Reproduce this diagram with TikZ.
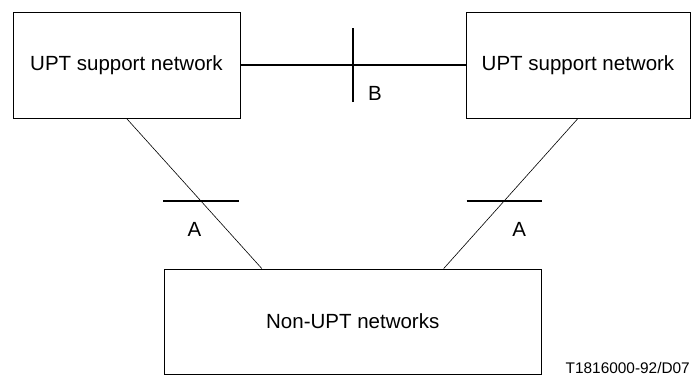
\documentclass[tikz,border=0pt]{standalone}
\usepackage{fontspec}
\setmainfont{Liberation Sans}
\usetikzlibrary{calc, positioning}

\begin{document}
\begin{tikzpicture}[x=1pt, y=-1pt,
        netbox/.style={draw, line width=0.8pt, inner sep=0pt,
            font=\fontsize{20.5}{24}\selectfont},
        thinlink/.style={line width=0.6pt},
        refpoint/.style={line width=1.6pt},
        reflabel/.style={font=\fontsize{20.5}{24}\selectfont, inner sep=0pt}]
                        \useasboundingbox (0, 0) rectangle (691, 376);

                        % networks
                        \node[netbox, minimum width=227pt, minimum height=106pt]
                            (upta) at (126.5, 65) {UPT support network};
                        \node[netbox, minimum width=224pt, minimum height=106pt]
                            (uptb) at (578, 65) {UPT support network};
                        \node[netbox, minimum width=377pt, minimum height=105pt]
                            (nonupt) at (352.75, 321.5) {Non-UPT networks};

                        % links
                        \draw[line width=1.4pt] (upta.east) -- coordinate[pos=0.5] (pb) (uptb.east -| uptb.west);
                        \draw[thinlink] (upta.south) -- coordinate[pos=0.55] (pa1) ([xshift=98pt]nonupt.north west);
                        \draw[thinlink] (uptb.south) -- coordinate[pos=0.55] (pa2) ([xshift=-98pt]nonupt.north east);

                        % reference points
                        \draw[refpoint] ([yshift=-37pt]pb) -- ([yshift=37pt]pb);
                        \draw[refpoint] ([xshift=-37.5pt]pa1) -- ([xshift=38.5pt]pa1);
                        \draw[refpoint] ([xshift=-37.5pt]pa2) -- ([xshift=37.5pt]pa2);
                        \node[reflabel] (lb) at ($(pb)+(22, 28)$) {B};
                        \node[reflabel] (la1) at ($(pa1)+(-6.5, 28)$) {A};
                        \node[reflabel] (la2) at ($(pa2)+(15, 28)$) {A};

                        \node[anchor=base east, inner sep=0pt, font=\fontsize{15.4}{18}\selectfont]
                            (code) at (690, 373) {T1816000-92/D07};
                    \end{tikzpicture}
\end{document}
